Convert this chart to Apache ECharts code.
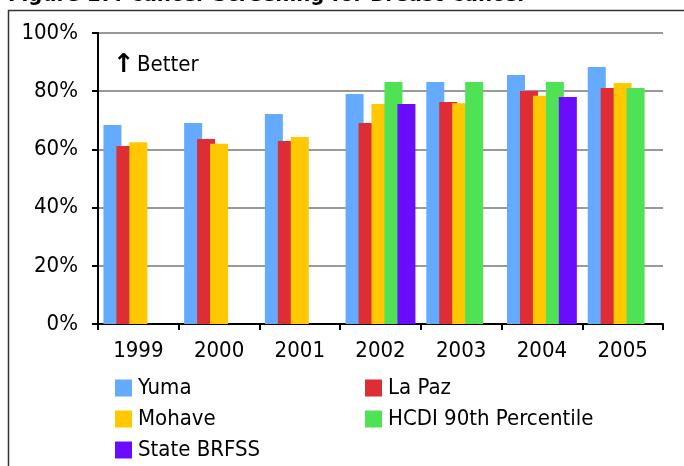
<!DOCTYPE html>
<html>
<head>
<meta charset="utf-8">
<script src="https://cdn.jsdelivr.net/npm/echarts@6/dist/echarts.min.js"></script>
<style>
    html, body { margin: 0; padding: 0; background: #fff; }
    #chart { width: 684px; height: 466px; }
</style>
</head>
<body>
<div id="chart"></div>
<script>
// data
const years = ['1999', '2000', '2001', '2002', '2003', '2004', '2005']
const yuma = [68.4, 69.1, 72.2, 79.0, 83.2, 85.6, 88.3]
const laPaz = [61.2, 63.6, 62.9, 69.1, 76.3, 80.1, 81.1]
const mohave = [62.5, 61.9, 64.3, 75.6, 75.9, 78.4, 82.8]
const hcdi = [null, null, null, 83.2, 83.2, 83.2, 81.1]
const stateBrfss = [null, null, null, 75.6, null, 78.0, null]

const font = "'DejaVu Sans Condensed', 'Liberation Sans', sans-serif"

let myCharts = echarts.init(document.getElementById('chart'))

function bar(name, data, color) {
    return {
        name: name,
        type: 'bar',
        data: data,
        barWidth: 18,
        barGap: '-28%',
        itemStyle: { color: color },
        emphasis: { disabled: true }
    }
}

let legendCommon = {
    orient: 'vertical',
    height: 100,
    padding: 0,
    itemWidth: 17,
    itemHeight: 17,
    itemGap: 9,
    icon: 'rect',
    textStyle: { fontFamily: font, fontSize: 22, color: '#000', padding: [0, 0, 0, 1] },
    selectedMode: false
}

let option = {
    animation: false,
    backgroundColor: '#fff',
    textStyle: { fontFamily: font },
    grid: { left: 98, top: 33, right: 21, bottom: 142 },
    xAxis: {
        type: 'category',
        data: years,
        axisLine: { lineStyle: { color: '#000', width: 2 } },
        axisTick: { show: true, length: 6, lineStyle: { color: '#000', width: 2 } },
        axisLabel: { color: '#000', fontSize: 22, fontFamily: font, margin: 16 }
    },
    yAxis: {
        type: 'value',
        min: 0,
        max: 100,
        interval: 20,
        axisLine: { show: true, lineStyle: { color: '#000', width: 2 } },
        axisTick: { show: true, length: 6, lineStyle: { color: '#000', width: 2 } },
        axisLabel: { color: '#000', fontSize: 22, fontFamily: font, margin: 20, formatter: '{value}%' },
        splitLine: { lineStyle: { color: '#999', width: 2 } }
    },
    legend: [
        Object.assign({ left: 115, top: 377, data: ['Yuma', 'Mohave', 'State BRFSS'] }, legendCommon),
        Object.assign({ left: 365, top: 377, data: ['La Paz', 'HCDI 90th Percentile'] }, legendCommon)
    ],
    graphic: [
        {
            type: 'rect',
            shape: { x: 8.5, y: 10.5, width: 700, height: 500 },
            style: { fill: null, stroke: '#333', lineWidth: 1.5 },
            silent: true
        },
        {
            type: 'text',
            left: 8,
            top: -16,
            style: {
                text: 'Figure 17: Cancer Screening for Breast Cancer',
                font: "bold 22px " + font,
                fill: '#000'
            },
            silent: true
        },
        {
            type: 'text',
            left: 113,
            top: 52,
            style: {
                text: '\u2191',
                font: "bold 26px 'DejaVu Sans', sans-serif",
                fill: '#000'
            },
            silent: true
        },
        {
            type: 'text',
            left: 137,
            top: 54,
            style: {
                text: 'Better',
                font: "22px " + font,
                fill: '#000'
            },
            silent: true
        }
    ],
    series: [
        bar('Yuma', yuma, '#64aaff'),
        bar('La Paz', laPaz, '#de2d35'),
        bar('Mohave', mohave, '#ffc800'),
        bar('HCDI 90th Percentile', hcdi, '#4fe255'),
        bar('State BRFSS', stateBrfss, '#6a0dff')
    ]
}

myCharts.setOption(option)
</script>
</body>
</html>
